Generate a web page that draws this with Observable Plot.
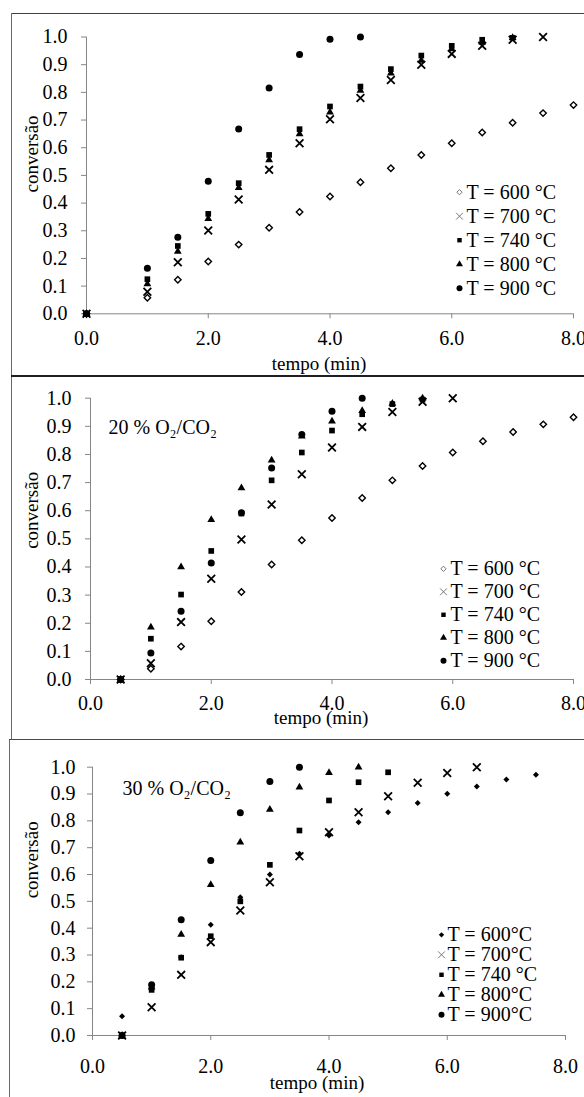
<!DOCTYPE html>
<html><head><meta charset="utf-8">
<script src="https://cdn.jsdelivr.net/npm/d3@7"></script>
<script src="https://cdn.jsdelivr.net/npm/@observablehq/plot@0.6"></script>
<style>
body{margin:0;background:#fff;}
#wrap{position:relative;width:584px;height:1097px;overflow:hidden;background:#fff;}
.panel{position:absolute;left:0;}
.panel text{font-family:'Liberation Serif','Times New Roman',serif !important;}
.line{position:absolute;pointer-events:none;}
</style></head><body><div id="wrap"></div><script>
// ---------- data ----------
const xTicks = [0, 2, 4, 6, 8];
const yTicks = [0, 0.1, 0.2, 0.3, 0.4, 0.5, 0.6, 0.7, 0.8, 0.9, 1.0];
const temps = ["600", "700", "740", "800", "900"];
const legend1 = ["T = 600 °C", "T = 700 °C", "T = 740 °C", "T = 800 °C", "T = 900 °C"];
const legend2 = ["T = 600 °C", "T = 700 °C", "T = 740 °C", "T = 800 °C", "T = 900 °C"];
const legend3 = ["T = 600°C", "T = 700°C", "T = 740 °C", "T = 800°C", "T = 900°C"];
const note2 = "20 % O₂/CO₂";
const note3 = "30 % O₂/CO₂";
const xTitle = "tempo (min)";
const yTitle = "conversão";

// panel 1
const time1_600 = [0, 1, 1.5, 2, 2.5, 3, 3.5, 4, 4.5, 5, 5.5, 6, 6.5, 7, 7.5, 8];
const conv1_600 = [0, 0.058, 0.123, 0.189, 0.25, 0.311, 0.368, 0.424, 0.475, 0.526, 0.574, 0.616, 0.655, 0.69, 0.725, 0.754];
const time1_700 = [0, 1, 1.5, 2, 2.5, 3, 3.5, 4, 4.5, 5, 5.5, 6, 6.5, 7, 7.5];
const conv1_700 = [0, 0.08, 0.186, 0.301, 0.413, 0.52, 0.616, 0.703, 0.78, 0.845, 0.9, 0.939, 0.968, 0.99, 1.0];
const time1_740 = [0, 1, 1.5, 2, 2.5, 3, 3.5, 4, 4.5, 5, 5.5, 6, 6.5, 7];
const conv1_740 = [0, 0.125, 0.245, 0.361, 0.472, 0.574, 0.667, 0.749, 0.821, 0.884, 0.933, 0.968, 0.99, 0.997];
const time1_800 = [0, 1, 1.5, 2, 2.5, 3, 3.5, 4, 4.5, 5, 5.5, 6, 6.5, 7];
const conv1_800 = [0, 0.108, 0.225, 0.343, 0.455, 0.556, 0.65, 0.728, 0.807, 0.869, 0.915, 0.957, 0.981, 0.997];
const time1_900 = [0, 1, 1.5, 2, 2.5, 3, 3.5, 4, 4.5];
const conv1_900 = [0, 0.165, 0.277, 0.479, 0.668, 0.816, 0.937, 0.992, 1.0];

// panel 2 (20 % O2/CO2)
const time2_600 = [0.5, 1, 1.5, 2, 2.5, 3, 3.5, 4, 4.5, 5, 5.5, 6, 6.5, 7, 7.5, 8];
const conv2_600 = [0, 0.038, 0.117, 0.207, 0.311, 0.409, 0.495, 0.574, 0.645, 0.708, 0.759, 0.807, 0.847, 0.88, 0.907, 0.932];
const time2_700 = [0.5, 1, 1.5, 2, 2.5, 3, 3.5, 4, 4.5, 5, 5.5, 6];
const conv2_700 = [0, 0.058, 0.204, 0.358, 0.498, 0.622, 0.73, 0.825, 0.898, 0.951, 0.987, 1.0];
const time2_740 = [0.5, 1, 1.5, 2, 2.5, 3, 3.5, 4, 4.5, 5, 5.5];
const conv2_740 = [0, 0.145, 0.302, 0.457, 0.59, 0.708, 0.807, 0.885, 0.943, 0.979, 0.995];
const time2_800 = [0.5, 1, 1.5, 2, 2.5, 3, 3.5, 4, 4.5, 5, 5.5];
const conv2_800 = [0, 0.186, 0.4, 0.568, 0.681, 0.779, 0.865, 0.918, 0.955, 0.981, 1.0];
const time2_900 = [0.5, 1, 1.5, 2, 2.5, 3, 3.5, 4, 4.5];
const conv2_900 = [0, 0.094, 0.243, 0.414, 0.593, 0.752, 0.871, 0.954, 1.0];

// panel 3 (30 % O2/CO2)
const time3_600 = [0.5, 1, 1.5, 2, 2.5, 3, 3.5, 4, 4.5, 5, 5.5, 6, 6.5, 7, 7.5];
const conv3_600 = [0.072, 0.18, 0.292, 0.413, 0.515, 0.6, 0.677, 0.745, 0.795, 0.832, 0.867, 0.901, 0.928, 0.954, 0.972];
const time3_700 = [0.5, 1, 1.5, 2, 2.5, 3, 3.5, 4, 4.5, 5, 5.5, 6, 6.5];
const conv3_700 = [0, 0.105, 0.226, 0.348, 0.466, 0.571, 0.668, 0.758, 0.832, 0.892, 0.942, 0.978, 1.0];
const time3_740 = [0.5, 1, 1.5, 2, 2.5, 3, 3.5, 4, 4.5, 5];
const conv3_740 = [0, 0.17, 0.29, 0.37, 0.5, 0.636, 0.764, 0.876, 0.944, 0.981];
const time3_800 = [0.5, 1, 1.5, 2, 2.5, 3, 3.5, 4, 4.5];
const conv3_800 = [0, 0.18, 0.376, 0.562, 0.72, 0.842, 0.925, 0.979, 1.0];
const time3_900 = [0.5, 1, 1.5, 2, 2.5, 3, 3.5];
const conv3_900 = [0, 0.189, 0.431, 0.652, 0.83, 0.947, 1.0];

// ---------- styling ----------
const FONT = "'Liberation Serif', 'Times New Roman', serif";
const AXIS = "#868686";
const styleOpen = {
  "600": {symbol: "diamond2", fill: "white", stroke: "black", strokeWidth: 1.4, r: 2.9},
  "700": {symbol: "times", fill: "none", stroke: "black", strokeWidth: 1.8, r: 3.6},
  "740": {symbol: "square", fill: "black", stroke: "none", strokeWidth: 0, r: 3.2},
  "800": {symbol: "triangle", fill: "black", stroke: "none", strokeWidth: 0, r: 2.9},
  "900": {symbol: "circle", fill: "black", stroke: "none", strokeWidth: 0, r: 3.5}
};
const styleFilled = Object.assign({}, styleOpen, {
  "600": {symbol: "diamond2", fill: "black", stroke: "none", strokeWidth: 0, r: 2.7}
});
const legendStyleOpen = Object.assign({}, styleOpen, {
  "600": {symbol: "diamond2", fill: "white", stroke: "#777", strokeWidth: 1, r: 2.4},
  "700": {symbol: "times", fill: "none", stroke: "#777", strokeWidth: 1, r: 3.2},
  "740": {symbol: "square", fill: "black", stroke: "none", strokeWidth: 0, r: 2.5},
  "800": {symbol: "triangle", fill: "black", stroke: "none", strokeWidth: 0, r: 2.6},
  "900": {symbol: "circle", fill: "black", stroke: "none", strokeWidth: 0, r: 3.0}
});
const legendStyleFilled = Object.assign({}, legendStyleOpen, {
  "600": {symbol: "diamond2", fill: "black", stroke: "none", strokeWidth: 0, r: 2.4}
});

function pts(t, c) { return t.map((d, i) => ({t: d, c: c[i]})); }

function makePanel(cfg) {
  const W = 584;
  const marks = [
    Plot.ruleY([0], {stroke: AXIS, strokeWidth: 1}),
    Plot.ruleX([0], {stroke: AXIS, strokeWidth: 1}),
    Plot.axisX(xTicks, {tickSize: 5, tickPadding: cfg.xPad, stroke: AXIS, fill: "black", tickFormat: d => d.toFixed(1), label: null}),
    Plot.axisY(yTicks, {tickSize: 5, tickPadding: cfg.yPad, stroke: AXIS, fill: "black", tickFormat: d => d.toFixed(1), label: null}),
    Plot.text([xTitle], {frameAnchor: "bottom", lineAnchor: "middle", dx: cfg.xTitleDx, dy: cfg.xTitleDy, fontSize: 19, fill: "black"}),
    Plot.text([yTitle], {frameAnchor: "left", lineAnchor: "middle", rotate: -90, dx: cfg.yTitleDx, dy: cfg.yTitleDy, fontSize: 19, fill: "black"})
  ];
  if (cfg.note) {
    marks.push(Plot.text([cfg.note], {frameAnchor: "top-left", lineAnchor: "middle", textAnchor: "start", dx: cfg.noteDx, dy: cfg.noteDy, fontSize: 20, fill: "black"}));
  }
  temps.forEach((k, i) => {
    const s = cfg.style[k];
    marks.push(Plot.dot(pts(cfg.times[i], cfg.convs[i]), {x: "t", y: "c", symbol: () => s.symbol, fill: s.fill, stroke: s.stroke, strokeWidth: s.strokeWidth, r: s.r}));
  });
  temps.forEach((k, i) => {
    const s = cfg.legendStyle[k];
    const dy = cfg.legY0 + i * cfg.legStep - cfg.marginTop;
    const dx = cfg.legX - cfg.marginLeft;
    marks.push(Plot.dot([k], {frameAnchor: "top-left", dx, dy, symbol: () => s.symbol, fill: s.fill, stroke: s.stroke, strokeWidth: s.strokeWidth, r: s.r}));
    marks.push(Plot.text([cfg.legend[i]], {frameAnchor: "top-left", lineAnchor: "middle", dx: dx + cfg.legGap, dy, textAnchor: "start", fontSize: cfg.legFont, fill: "black"}));
  });
  const svg = Plot.plot({
    width: W, height: cfg.height,
    marginTop: cfg.marginTop, marginBottom: cfg.marginBottom,
    marginLeft: cfg.marginLeft, marginRight: cfg.marginRight,
    x: {domain: [0, 8]},
    y: {domain: [0, 1]},
    symbol: {type: "identity"},
    style: {fontFamily: FONT, fontSize: "20px", color: "black", background: "transparent", overflow: "visible"},
    marks
  });
  svg.classList.add("panel");
  svg.style.top = cfg.top + "px";
  return svg;
}

const wrap = document.getElementById("wrap");
wrap.appendChild(makePanel({
  top: 0, height: 376, marginTop: 36.5, marginBottom: 62.7, marginLeft: 86, marginRight: 11,
  xPad: 12, yPad: 14, xTitleDx: -11, xTitleDy: 50, yTitleDx: -55, yTitleDy: 17,
  times: [time1_600, time1_700, time1_740, time1_800, time1_900],
  convs: [conv1_600, conv1_700, conv1_740, conv1_800, conv1_900],
  style: styleOpen, legendStyle: legendStyleOpen, legend: legend1,
  legX: 459, legGap: 7, legY0: 191.7, legStep: 24, legFont: 20
}));
wrap.appendChild(makePanel({
  top: 376, height: 363, marginTop: 21.7, marginBottom: 60, marginLeft: 90, marginRight: 11,
  xPad: 11.5, yPad: 14, xTitleDx: -11, xTitleDy: 38, yTitleDx: -58.5, yTitleDy: 10,
  note: note2, noteDx: 18, noteDy: 29,
  times: [time2_600, time2_700, time2_740, time2_800, time2_900],
  convs: [conv2_600, conv2_700, conv2_740, conv2_800, conv2_900],
  style: styleOpen, legendStyle: legendStyleOpen, legend: legend2,
  legX: 443, legGap: 7, legY0: 192.3, legStep: 23, legFont: 20
}));
wrap.appendChild(makePanel({
  top: 739, height: 358, marginTop: 27.7, marginBottom: 62, marginLeft: 92, marginRight: 19,
  xPad: 18.5, yPad: 12, xTitleDx: -12, xTitleDy: 47, yTitleDx: -60.5, yTitleDy: -3,
  note: note3, noteDx: 30, noteDy: 21,
  times: [time3_600, time3_700, time3_740, time3_800, time3_900],
  convs: [conv3_600, conv3_700, conv3_740, conv3_800, conv3_900],
  style: styleFilled, legendStyle: legendStyleFilled, legend: legend3,
  legX: 441, legGap: 6, legY0: 195.3, legStep: 20, legFont: 20
}));

// panel frames (decoration)
function line(l, t, w, h, c) {
  const d = document.createElement("div");
  d.className = "line";
  Object.assign(d.style, {left: l + "px", top: t + "px", width: w + "px", height: h + "px", background: c});
  wrap.appendChild(d);
}
line(11, 12.5, 573, 1.5, "#404040");
line(10.5, 13, 1, 363, "#6a6a6a");
line(10.5, 375, 573.5, 2, "#1e1e1e");
line(10.5, 377, 1, 362, "#6a6a6a");
line(8.5, 738.5, 575.5, 1.5, "#4a4a4a");
line(8.5, 740, 1, 357, "#6a6a6a");
</script></body></html>
